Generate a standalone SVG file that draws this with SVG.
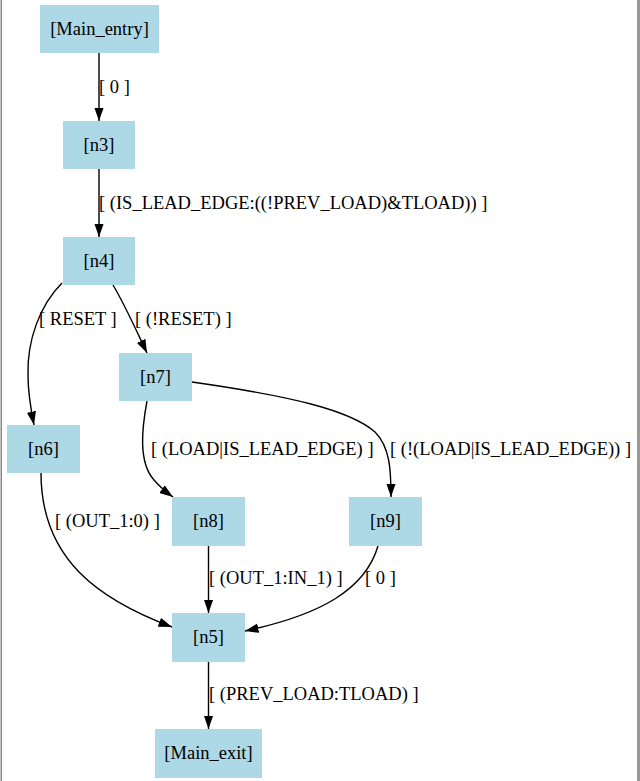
<svg xmlns="http://www.w3.org/2000/svg" width="640" height="781" viewBox="0 0 640 781">
<style>
.node rect{fill:#add8e6;stroke:none}
text{font-family:"Liberation Serif","Times New Roman",serif;font-size:18.5px;fill:#000}
.node text{text-anchor:middle}
.edge path{fill:none;stroke:#000;stroke-width:1.4}
</style>
<defs>
<marker id="ah" viewBox="0 0 14 10" refX="13.5" refY="5" markerWidth="14" markerHeight="10" markerUnits="userSpaceOnUse" orient="auto">
<path d="M0,0.3 L13.5,5 L0,9.7 Z" fill="#000"/>
</marker>
</defs>
<rect x="0" y="0" width="640" height="781" fill="#fff"/>
<rect x="0.5" y="0" width="1.5" height="781" fill="#888"/>
<rect x="637" y="0" width="3" height="781" fill="#999"/>
<g id="connectors" class="edge">
<path d="M99,53 L99,121" marker-end="url(#ah)"/>
<path d="M99,169 L99,237" marker-end="url(#ah)"/>
<path d="M62,283 C40,305 27,340 28,375 C28,395 31,410 34,425" marker-end="url(#ah)"/>
<path d="M113,285 C125,305 136,330 147,353" marker-end="url(#ah)"/>
<path d="M41,473 C41,560 100,600 172,627" marker-end="url(#ah)"/>
<path d="M147,401 C142,428 138,462 154,480 C160,487 166,492 173,497" marker-end="url(#ah)"/>
<path d="M192,382 C290,396 350,410 375,432 C390,447 391,470 391,497" marker-end="url(#ah)"/>
<path d="M208.5,546 L208.5,613" marker-end="url(#ah)"/>
<path d="M378,546 C365,590 320,615 245,631" marker-end="url(#ah)"/>
<path d="M208.5,662 L208.5,729" marker-end="url(#ah)"/>
</g>
<g id="edge-labels">
<text x="99" y="93">[ 0 ]</text>
<text x="99" y="209">[ (IS_LEAD_EDGE:((!PREV_LOAD)&amp;TLOAD)) ]</text>
<text x="39" y="325">[ RESET ]</text>
<text x="135" y="325">[ (!RESET) ]</text>
<text x="151" y="455">[ (LOAD|IS_LEAD_EDGE) ]</text>
<text x="390" y="455">[ (!(LOAD|IS_LEAD_EDGE)) ]</text>
<text x="55" y="527">[ (OUT_1:0) ]</text>
<text x="209" y="584">[ (OUT_1:IN_1) ]</text>
<text x="365" y="584">[ 0 ]</text>
<text x="209" y="700">[ (PREV_LOAD:TLOAD) ]</text>
</g>
<g id="Main_entry" class="node"><rect x="40" y="5" width="119" height="48"/><text x="99.5" y="35">[Main_entry]</text></g>
<g id="n3" class="node"><rect x="63" y="121" width="72" height="48"/><text x="99" y="151">[n3]</text></g>
<g id="n4" class="node"><rect x="63" y="237" width="72" height="48"/><text x="99" y="267">[n4]</text></g>
<g id="n7" class="node"><rect x="119" y="353" width="73" height="48"/><text x="155.5" y="383">[n7]</text></g>
<g id="n6" class="node"><rect x="7" y="425" width="73" height="48"/><text x="43.5" y="455">[n6]</text></g>
<g id="n8" class="node"><rect x="172" y="497" width="73" height="49"/><text x="208.5" y="527">[n8]</text></g>
<g id="n9" class="node"><rect x="349" y="497" width="73" height="49"/><text x="385.5" y="527">[n9]</text></g>
<g id="n5" class="node"><rect x="172" y="613" width="73" height="49"/><text x="208.5" y="643">[n5]</text></g>
<g id="Main_exit" class="node"><rect x="155" y="729" width="107" height="49"/><text x="208.5" y="759">[Main_exit]</text></g>
</svg>
